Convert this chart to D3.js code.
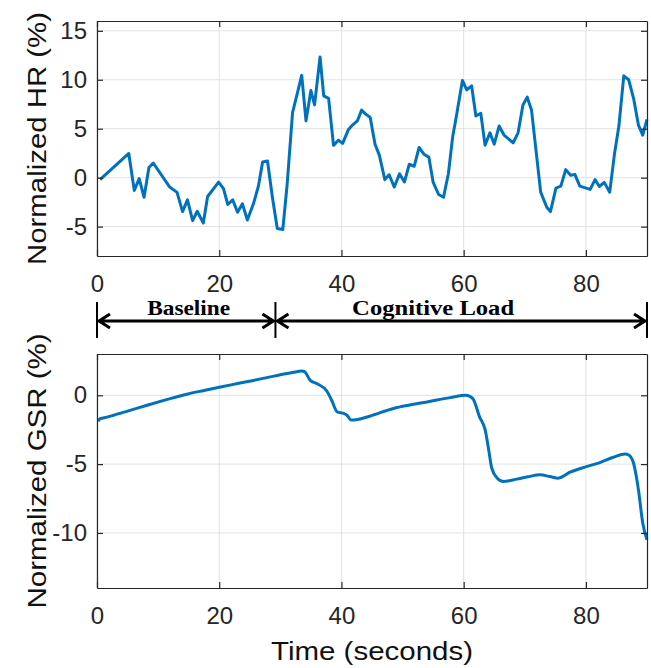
<!DOCTYPE html>
<html>
<head>
<meta charset="utf-8">
<script src="https://cdn.jsdelivr.net/npm/d3@7"></script>
<style>
  body { margin: 0; background: #fff; }
  svg { display: block; font-family: Arial, "Liberation Sans", sans-serif; }
  .axis path, .axis line { stroke: #262626; stroke-width: 1.2; }
  .axis text { fill: #262626; font-size: 24px; }
  .grid-line { stroke: #e2e2e2; stroke-width: 1; }
</style>
</head>
<body>
<div class="module-graph"></div>
<script>
"use strict"

// heart rate (top panel)
const hrTime = [0.5, 5.2, 6.1, 6.9, 7.7, 8.5, 9.2, 11.9, 13.1, 14.0, 14.8, 15.65, 16.4, 17.4, 18.1, 19.9,
    20.7, 21.4, 22.2, 23.0, 23.8, 24.6, 25.6, 26.4, 27.1, 27.9, 28.7, 29.5, 30.4, 31.1, 32.0, 33.5,
    34.2, 35.0, 35.6, 36.5, 37.1, 37.9, 38.7, 39.5, 40.2, 41.1, 41.8, 42.6, 43.3, 44.0, 44.7, 45.5,
    46.2, 47.1, 47.8, 48.65, 49.5, 50.3, 51.1, 51.9, 52.7, 53.5, 54.3, 55.0, 55.9, 56.7, 57.5, 58.2,
    58.7, 59.8, 60.5, 61.3, 62.0, 62.8, 63.5, 64.3, 65.0, 65.8, 66.6, 68.1, 68.9, 69.7, 70.4, 71.1,
    72.6, 73.6, 74.2, 75.1, 75.9, 76.7, 77.5, 78.2, 79.0, 80.7, 81.5, 82.2, 83.0, 83.9, 84.7, 85.4,
    86.2, 87.0, 87.8, 88.6, 89.3, 90.0];
const hrValue = [-0.2, 2.47, -1.3, -0.1, -2.0, 1.03, 1.5, -0.96, -1.5, -3.46, -2.27, -4.39, -3.43, -4.63, -1.92, -0.45,
    -1.13, -2.74, -2.27, -3.53, -2.67, -4.32, -2.67, -0.9, 1.6, 1.7, -2.0, -5.2, -5.3, -0.8, 6.64, 10.45,
    5.8, 8.9, 7.43, 12.33, 8.36, 8.1, 3.3, 3.83, 3.5, 4.86, 5.37, 5.79, 6.9, 6.47, 6.16, 3.4,
    2.3, -0.2, 0.3, -0.96, 0.4, -0.45, 1.37, 1.16, 3.08, 2.4, 2.1, -0.45, -1.72, -2.0, 0.4, 4.17,
    5.9, 9.93, 8.97, 9.38, 6.3, 6.58, 3.32, 4.58, 3.42, 5.27, 4.35, 3.56, 4.58, 7.43, 8.22, 6.92,
    -1.48, -3.02, -3.46, -1.07, -0.86, 0.82, 0.24, 0.34, -0.86, -1.2, -0.2, -0.9, -0.48, -1.48, 2.53, 5.27,
    10.4, 10.0, 8.1, 5.37, 4.35, 5.96];

// skin conductance (bottom panel)
const gsrTime = [0.2, 0.5, 1.0, 2.7, 5.0, 8.2, 11.5, 14.7, 17.5, 20.2, 23.0, 25.6, 28.0, 30.0, 32.0, 33.5,
    34.0, 34.9, 36.0, 37.6, 38.4, 39.3, 40.4, 40.9, 41.6, 42.6, 44.6, 48.5, 51.0, 54.0, 57.8, 60.4,
    61.5, 62.6, 63.5, 64.1, 64.6, 65.5, 66.5, 68.7, 70.5, 72.5, 74.1, 75.5, 77.4, 80.1, 82.3, 84.5,
    86.4, 87.0, 87.8, 88.6, 89.3, 90.0];
const gsrValue = [-1.9, -1.7, -1.65, -1.45, -1.15, -0.72, -0.3, 0.08, 0.35, 0.6, 0.85, 1.08, 1.3, 1.49, 1.65, 1.76,
    1.7, 1.08, 0.84, 0.31, -0.36, -1.2, -1.32, -1.45, -1.8, -1.76, -1.52, -0.96, -0.72, -0.48, -0.17, 0.0,
    -0.24, -1.57, -2.48, -3.97, -5.3, -6.02, -6.26, -6.09, -5.92, -5.78, -5.9, -6.02, -5.59, -5.18, -4.89, -4.5,
    -4.26, -4.34, -4.94, -6.86, -9.27, -10.5];

const xTicks = [0, 20, 40, 60, 80];
const hrTicks = [-5, 0, 5, 10, 15];
const gsrTicks = [-10, -5, 0];

const phaseNames = ["Baseline", "Cognitive Load"];
const phaseStart = [0, 29.2];
const phaseEnd = [29.2, 90];
const phaseLabelAt = [15, 55];

const width = 651,
    height = 668;

const svg = d3.select("div.module-graph").append("svg")
    .attr("width", width)
    .attr("height", height);

const scaleX = d3.scaleLinear().domain([0, 90]).range([97, 647]);
const scaleHR = d3.scaleLinear().domain([-8, 16]).range([256, 21]);
const scaleGSR = d3.scaleLinear().domain([-14, 3]).range([588, 354]);

const plainNumber = d => String(d);

function drawPanel(scaleY, yTicks, time, values, curve) {
    const [x0, x1] = scaleX.range();
    const [yb, yt] = scaleY.range();

    // grid
    svg.append("g").selectAll("line.v")
        .data(xTicks)
        .join("line")
        .attr("class", "grid-line")
        .attr("x1", d => scaleX(d)).attr("x2", d => scaleX(d))
        .attr("y1", yt).attr("y2", yb);
    svg.append("g").selectAll("line.h")
        .data(yTicks)
        .join("line")
        .attr("class", "grid-line")
        .attr("x1", x0).attr("x2", x1)
        .attr("y1", d => scaleY(d)).attr("y2", d => scaleY(d));

    // data line
    const line = d3.line()
        .x((d, i) => scaleX(time[i]))
        .y(d => scaleY(d))
        .curve(curve);
    svg.append("path")
        .datum(values)
        .attr("fill", "none")
        .attr("stroke", "#0072BD")
        .attr("stroke-width", 3)
        .attr("stroke-linejoin", "round")
        .attr("d", line);

    // box with inward ticks
    svg.append("g").attr("class", "axis")
        .attr("transform", "translate(0," + yb + ")")
        .call(d3.axisBottom(scaleX).tickValues(xTicks).tickFormat(plainNumber)
            .tickSize(-6).tickSizeOuter(0).tickPadding(19))
        .call(g => g.selectAll("text").attr("font-family", null).attr("font-size", null));
    svg.append("g").attr("class", "axis")
        .attr("transform", "translate(0," + yt + ")")
        .call(d3.axisTop(scaleX).tickValues(xTicks).tickSize(-6).tickSizeOuter(0).tickFormat(""));
    svg.append("g").attr("class", "axis")
        .attr("transform", "translate(" + x0 + ",0)")
        .call(d3.axisLeft(scaleY).tickValues(yTicks).tickFormat(plainNumber)
            .tickSize(-6).tickSizeOuter(0).tickPadding(10))
        .call(g => g.selectAll("text").attr("font-family", null).attr("font-size", null));
    svg.append("g").attr("class", "axis")
        .attr("transform", "translate(" + x1 + ",0)")
        .call(d3.axisRight(scaleY).tickValues(yTicks).tickSize(-6).tickSizeOuter(0).tickFormat(""));
}

drawPanel(scaleHR, hrTicks, hrTime, hrValue, d3.curveLinear);
drawPanel(scaleGSR, gsrTicks, gsrTime, gsrValue, d3.curveMonotoneX);

// axis titles
svg.append("text")
    .attr("transform", "translate(46," + (256 + 21) / 2 + ") rotate(-90)")
    .attr("text-anchor", "middle")
    .attr("font-size", 25)
    .attr("textLength", 253)
    .attr("lengthAdjust", "spacingAndGlyphs")
    .attr("fill", "#111")
    .text("Normalized HR (%)");

svg.append("text")
    .attr("transform", "translate(46," + (588 + 354) / 2 + ") rotate(-90)")
    .attr("text-anchor", "middle")
    .attr("font-size", 25)
    .attr("textLength", 275)
    .attr("lengthAdjust", "spacingAndGlyphs")
    .attr("fill", "#111")
    .text("Normalized GSR (%)");

svg.append("text")
    .attr("x", (97 + 647) / 2)
    .attr("y", 660)
    .attr("text-anchor", "middle")
    .attr("font-size", 25)
    .attr("textLength", 202)
    .attr("lengthAdjust", "spacingAndGlyphs")
    .attr("fill", "#111")
    .text("Time (seconds)");

// phase markers between the panels
const arrowY = 321;
const bounds = Array.from(new Set(phaseStart.concat(phaseEnd)));
svg.append("g").selectAll("line")
    .data(bounds)
    .join("line")
    .attr("x1", d => scaleX(d)).attr("x2", d => scaleX(d))
    .attr("y1", 302).attr("y2", 338)
    .attr("stroke", "#000")
    .attr("stroke-width", 2);

const phases = phaseNames.map((name, i) => ({name, start: phaseStart[i], end: phaseEnd[i], at: phaseLabelAt[i]}));
const ph = svg.append("g").selectAll("g").data(phases).join("g");
ph.append("path")
    .attr("fill", "none")
    .attr("stroke", "#000")
    .attr("stroke-width", 3)
    .attr("d", d => {
        const a = scaleX(d.start) + 2, b = scaleX(d.end) - 2;
        return "M" + a + "," + arrowY + "L" + b + "," + arrowY +
            "M" + (a + 11) + "," + (arrowY - 7) + "L" + a + "," + arrowY + "L" + (a + 11) + "," + (arrowY + 7) +
            "M" + (b - 11) + "," + (arrowY - 7) + "L" + b + "," + arrowY + "L" + (b - 11) + "," + (arrowY + 7);
    });
ph.append("text")
    .attr("x", d => scaleX(d.at))
    .attr("y", 315)
    .attr("text-anchor", "middle")
    .attr("font-family", "'Liberation Serif', 'Times New Roman', serif")
    .attr("font-weight", "bold")
    .attr("font-size", 21)
    .attr("textLength", (d, i) => i === 0 ? 83 : 162)
    .attr("lengthAdjust", "spacingAndGlyphs")
    .text(d => d.name);
</script>
</body>
</html>
